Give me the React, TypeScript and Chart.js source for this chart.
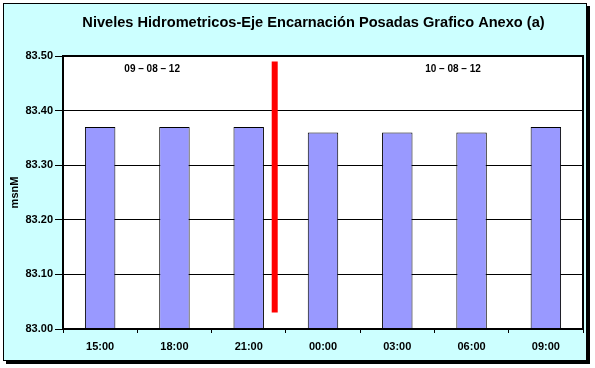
import React, { useEffect, useRef } from "react";
import { Chart, registerables } from "chart.js";

Chart.register(...registerables);

const TITLE = "Niveles Hidrometricos-Eje Encarnación Posadas Grafico Anexo (a)";
const Y_TITLE = "msnM";
const categories = ["15:00", "18:00", "21:00", "00:00", "03:00", "06:00", "09:00"];
const levels = [83.37, 83.37, 83.37, 83.36, 83.36, 83.36, 83.37];
const yMin = 83.0;
const yMax = 83.5;
const yStep = 0.1;
// red day-separator line (position on category index scale)
const separatorX = [2.35, 2.35];
const separatorY = [83.03, 83.49];
// date annotations
const dateLabels = ["09 – 08 – 12", "10 – 08 – 12"];
const dateX = [0.7, 4.75];
const dateY = [83.476, 83.476];

const FONT = "'Liberation Sans', Arial, sans-serif";

const framePlugin = {
  id: "frameAndTitle",
  beforeDraw(chart: any) {
    const { ctx, chartArea } = chart;
    ctx.save();
    ctx.fillStyle = "#ffffff";
    ctx.fillRect(0, 0, chart.width, chart.height);
    // shadow
    ctx.fillStyle = "#000000";
    ctx.fillRect(6, 6, 584, 358);
    // frame
    ctx.fillStyle = "#CCFFFF";
    ctx.fillRect(3, 3, 584, 358);
    ctx.strokeStyle = "#000000";
    ctx.lineWidth = 1;
    ctx.strokeRect(3.5, 3.5, 583, 357);
    // plot area
    ctx.fillStyle = "#ffffff";
    ctx.fillRect(chartArea.left, chartArea.top, chartArea.right - chartArea.left, chartArea.bottom - chartArea.top);
    ctx.restore();
  },
  afterDatasetsDraw(chart: any) {
    const { ctx, chartArea } = chart;
    ctx.save();
    ctx.strokeStyle = "#000000";
    ctx.lineWidth = 2;
    ctx.strokeRect(chartArea.left, chartArea.top, chartArea.right - chartArea.left, chartArea.bottom - chartArea.top);
    ctx.restore();
  },
  afterDraw(chart: any) {
    const { ctx } = chart;
    ctx.save();
    ctx.fillStyle = "#000000";
    ctx.font = `bold 14.6px ${FONT}`;
    ctx.textAlign = "center";
    ctx.textBaseline = "middle";
    ctx.fillText(TITLE, 313.5, 23);
    const xs = chart.scales.x2;
    const ys = chart.scales.y;
    ctx.font = `bold 10px ${FONT}`;
    dateLabels.forEach((t, i) => {
      ctx.fillText(t, xs.getPixelForValue(dateX[i]), ys.getPixelForValue(dateY[i]));
    });
    ctx.restore();
  },
};

export default function App() {
  const ref = useRef<HTMLCanvasElement | null>(null);
  useEffect(() => {
    document.body.style.margin = "0";
    if (!ref.current) return;
    const chart = new Chart(ref.current, {
      type: "bar",
      data: {
        labels: categories,
        datasets: [
          {
            type: "bar",
            data: levels,
            backgroundColor: "#9999FF",
            borderColor: "#000000",
            borderWidth: 1,
            borderSkipped: false,
            grouped: false,
            categoryPercentage: 1,
            barPercentage: 0.41,
            xAxisID: "x",
            yAxisID: "y",
            order: 2,
          } as any,
          {
            type: "line",
            data: separatorX.map((x, i) => ({ x, y: separatorY[i] })),
            borderColor: "#FF0000",
            borderWidth: 6,
            borderCapStyle: "butt",
            pointRadius: 0,
            xAxisID: "x2",
            yAxisID: "y",
            order: 1,
          } as any,
        ],
      },
      options: {
        animation: false,
        responsive: false,
        layout: { padding: { left: 0, top: 56, right: 12, bottom: 0 } },
        plugins: {
          legend: { display: false },
          title: { display: false },
          tooltip: { enabled: false },
        },
        scales: {
          x: {
            type: "category",
            offset: true,
            afterFit: (s: any) => {
              s.height = 39;
            },
            grid: {
              display: true,
              drawOnChartArea: false,
              tickLength: 4,
              color: "#000000",
              offset: true,
            },
            border: { display: false },
            ticks: {
              color: "#000000",
              font: { family: FONT, size: 11, weight: "bold" },
              padding: 7,
              maxRotation: 0,
            },
          },
          x2: {
            type: "linear",
            min: -0.5,
            max: 6.5,
            offset: false,
            grid: { offset: false },
            display: false,
          },
          y: {
            type: "linear",
            min: yMin,
            max: yMax,
            afterFit: (s: any) => {
              s.width = 63;
            },
            ticks: {
              stepSize: yStep,
              color: "#000000",
              font: { family: FONT, size: 11, weight: "bold" },
              padding: 2,
              callback: (v: any) => Number(v).toFixed(2),
            },
            grid: {
              color: "#000000",
              lineWidth: 1,
              tickLength: 8,
            },
            border: { display: false },
            title: {
              display: true,
              text: Y_TITLE,
              color: "#000000",
              font: { family: FONT, size: 11, weight: "bold" },
              padding: { top: 8, bottom: 0 },
            },
          },
        },
      },
      plugins: [framePlugin],
    });
    return () => chart.destroy();
  }, []);
  return (
    <div style={{ position: "absolute", left: 0, top: 0, width: 595, height: 368 }}>
      <canvas ref={ref} width={595} height={368} style={{ width: 595, height: 368, display: "block" }} />
    </div>
  );
}
